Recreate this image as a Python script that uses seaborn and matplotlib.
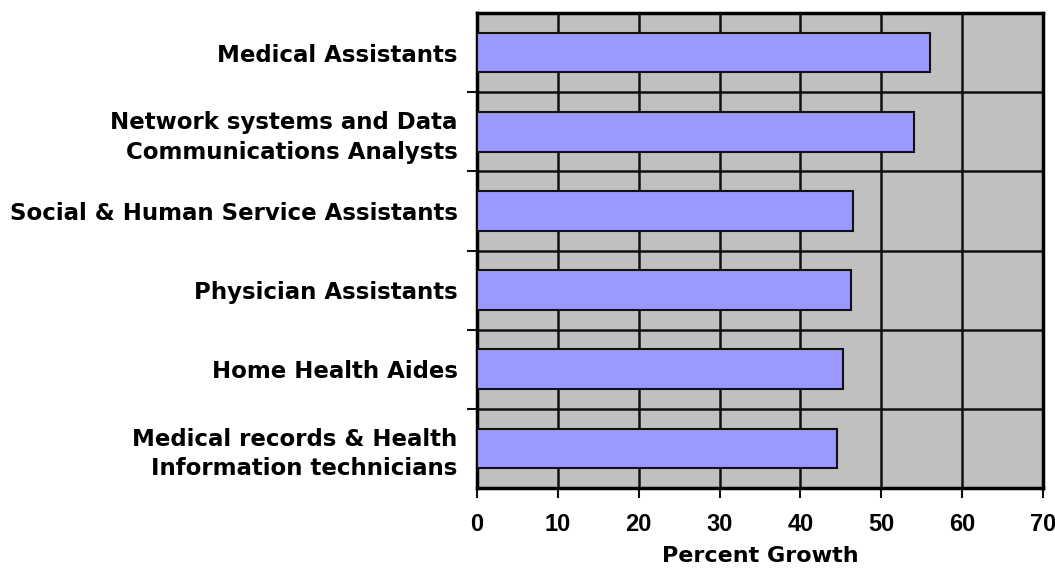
import matplotlib
matplotlib.use("Agg")
import matplotlib.pyplot as plt
import seaborn as sns
import pandas as pd
import numpy as np

categories = [
    "Medical Assistants",
    "Network systems and Data\nCommunications Analysts",
    "Social & Human Service Assistants",
    "Physician Assistants",
    "Home Health Aides",
    "Medical records & Health\nInformation technicians",
]
growth = [56, 54, 46.5, 46.2, 45.3, 44.5]
x_ticks = [0, 10, 20, 30, 40, 50, 60, 70]
x_label = "Percent Growth"

sns.set_theme(style="white")
plt.rcParams["font.family"] = ["Liberation Sans", "DejaVu Sans"]
plt.rcParams["text.color"] = "black"
plt.rcParams["xtick.color"] = "black"
plt.rcParams["ytick.color"] = "black"
plt.rcParams["axes.labelcolor"] = "black"

df = pd.DataFrame({"category": categories, "growth": growth})

fig = plt.figure(figsize=(10.55, 5.71), dpi=100)
ax = fig.add_axes([477/1055, 1-488/571, (1043-477)/1055, (488-13)/571])
ax.set_facecolor("#C0C0C0")

sns.barplot(data=df, x="growth", y="category", orient="h", color="#9999FF",
            saturation=1, width=0.5, edgecolor="#111111", linewidth=1.5, ax=ax, zorder=3)

ax.set_xlim(0, 70)
ax.set_ylim(len(categories) - 0.5, -0.5)
ax.set_xticks(x_ticks)
ax.set_xticklabels([str(t) for t in x_ticks], fontsize=17, fontweight="bold")
ax.set_yticks(range(len(categories)))
ax.set_yticklabels(categories, fontsize=16.5, fontweight="bold", linespacing=1.35,
                   family=["DejaVu Sans"])
ax.set_yticks(np.arange(0.5, len(categories) - 0.5, 1), minor=True)
ax.tick_params(axis="y", which="major", length=0, pad=14)
ax.tick_params(axis="y", which="minor", length=7, width=1.5, color="#111111", left=True)
ax.tick_params(axis="x", which="major", length=7, width=1.5, color="#111111", bottom=True, pad=11)

ax.grid(False)
for t in x_ticks[1:-1]:
    ax.axvline(t, color="#111111", linewidth=1.8, zorder=1)
for b in np.arange(0.5, len(categories) - 0.5, 1):
    ax.axhline(b, color="#111111", linewidth=1.8, zorder=1)

for s in ax.spines.values():
    s.set_visible(True)
    s.set_color("#000000")
    s.set_linewidth(2.5)

ax.set_ylabel("")
ax.set_xlabel(x_label, fontsize=16, fontweight="bold", labelpad=7,
              family=["DejaVu Sans"])

fig.savefig("out.png", dpi=100)
